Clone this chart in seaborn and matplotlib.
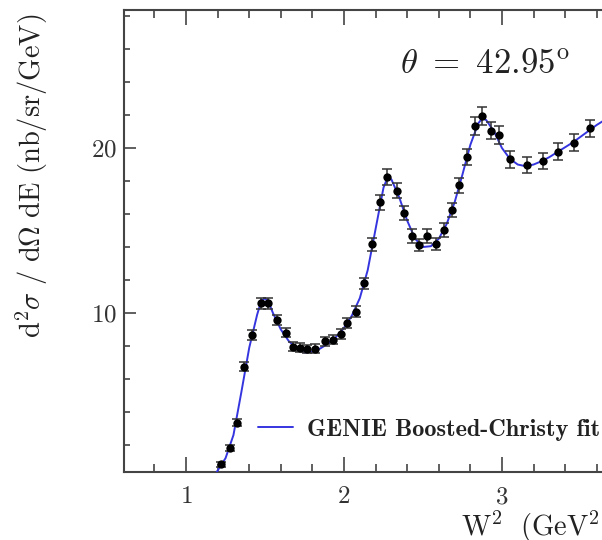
import matplotlib
matplotlib.use("Agg")
import matplotlib.pyplot as plt
import seaborn as sns
import pandas as pd
from matplotlib.ticker import MultipleLocator

# ---- data ----
data_w2 = [1.218, 1.276, 1.320, 1.366, 1.419, 1.476, 1.516, 1.577, 1.630, 1.680,
           1.722, 1.768, 1.818, 1.880, 1.932, 1.980, 2.022, 2.073, 2.125, 2.175,
           2.228, 2.274, 2.333, 2.380, 2.428, 2.477, 2.527, 2.582, 2.633, 2.682,
           2.730, 2.780, 2.829, 2.875, 2.928, 2.980, 3.050, 3.156, 3.258, 3.356,
           3.456, 3.560]
data_xs = [0.82, 1.80, 3.35, 6.75, 8.66, 10.58, 10.60, 9.60, 8.80, 7.96,
           7.90, 7.82, 7.84, 8.28, 8.38, 8.72, 9.40, 10.08, 11.80, 14.16,
           16.70, 18.26, 17.41, 16.08, 14.67, 14.12, 14.67, 14.18, 15.03, 16.24,
           17.73, 19.45, 21.33, 21.94, 21.05, 20.79, 19.32, 18.97, 19.21, 19.78,
           20.32, 21.19]
data_err = [0.15, 0.18, 0.22, 0.27, 0.30, 0.33, 0.33, 0.30, 0.28, 0.26,
            0.26, 0.26, 0.26, 0.27, 0.27, 0.28, 0.30, 0.32, 0.35, 0.40,
            0.43, 0.47, 0.45, 0.42, 0.40, 0.39, 0.40, 0.39, 0.41, 0.43,
            0.46, 0.50, 0.53, 0.55, 0.53, 0.52, 0.50, 0.49, 0.50, 0.51,
            0.52, 0.54]

fit_w2 = [1.17, 1.20, 1.25, 1.30, 1.35, 1.40, 1.45, 1.475, 1.50, 1.525,
          1.55, 1.60, 1.65, 1.70, 1.75, 1.80, 1.85, 1.90, 1.95, 2.00,
          2.05, 2.10, 2.15, 2.20, 2.25, 2.275, 2.30, 2.35, 2.40, 2.45,
          2.50, 2.55, 2.60, 2.65, 2.70, 2.75, 2.80, 2.85, 2.875, 2.90,
          2.95, 3.00, 3.05, 3.10, 3.15, 3.20, 3.25, 3.30, 3.35, 3.40,
          3.45, 3.50, 3.55, 3.60, 3.65, 3.70, 3.76]
fit_xs = [0.0, 0.45, 1.20, 2.60, 5.20, 7.90, 9.90, 10.70, 10.90, 10.60,
          10.00, 9.00, 8.30, 7.85, 7.60, 7.65, 7.85, 8.15, 8.55, 9.10,
          9.85, 10.90, 12.60, 15.10, 17.60, 18.20, 18.10, 17.00, 15.60, 14.50,
          14.00, 14.05, 14.50, 15.40, 16.70, 18.40, 20.20, 21.50, 21.80, 21.70,
          21.00, 20.00, 19.35, 19.00, 18.90, 19.00, 19.20, 19.45, 19.75, 20.05,
          20.35, 20.70, 21.05, 21.40, 21.70, 22.00, 22.35]

x_ticks = [1, 2, 3]
y_ticks = [10, 20]
title_text = r"$\mathrm{\theta\ =\ 42.95^{o}}$"
legend_label = "GENIE Boosted-Christy fit"
xlabel = r"$\mathrm{W^{2}\ \ (GeV^{2})}$"
ylabel = r"$\mathrm{d^{2}\sigma\ /\ d\Omega\ dE\ (nb/sr/GeV)}$"

sns.set_style("ticks")
plt.rcParams["font.family"] = ["cmr10", "DejaVu Serif"]
plt.rcParams["mathtext.fontset"] = "cm"
plt.rcParams["axes.formatter.use_mathtext"] = True

fig = plt.figure(figsize=(6.02, 5.40), dpi=100)
ax = fig.add_axes([124 / 602, 68 / 540, 498 / 602, 462.5 / 540])

df_fit = pd.DataFrame({"w2": fit_w2, "xs": fit_xs})
df_dat = pd.DataFrame({"w2": data_w2, "xs": data_xs, "err": data_err})

sns.lineplot(data=df_fit, x="w2", y="xs", ax=ax, color="#3535e0", lw=1.4,
             label=legend_label, sort=False, zorder=3)
ax.errorbar(df_dat["w2"], df_dat["xs"], yerr=df_dat["err"], fmt="none",
            ecolor="#333333", elinewidth=1.1, capsize=3.8, capthick=1.1,
            zorder=4, label="_nolegend_")
sns.scatterplot(data=df_dat, x="w2", y="xs", ax=ax, color="black", s=36,
                edgecolor="black", linewidth=0, zorder=5, legend=False)

ax.set_xlim(0.607, 3.76)
ax.set_ylim(0.36, 28.4)
ax.set_xticks(x_ticks)
ax.set_yticks(y_ticks)
ax.xaxis.set_minor_locator(MultipleLocator(0.2))
ax.yaxis.set_minor_locator(MultipleLocator(2))

for s in ["left", "bottom", "top", "right"]:
    ax.spines[s].set_visible(True)
    ax.spines[s].set_color("#444444")
    ax.spines[s].set_linewidth(1.5)

ax.tick_params(axis="x", which="major", direction="in", length=11, width=1.2,
               color="#444444", top=True, labelsize=18, pad=10)
ax.tick_params(axis="x", which="minor", direction="in", length=5.5, width=1.2,
               color="#444444", top=True)
ax.tick_params(axis="y", which="major", direction="in", length=8.5, width=1.2,
               color="#444444", right=True, labelsize=18, pad=5)
ax.tick_params(axis="y", which="minor", direction="in", length=4.3, width=1.2,
               color="#444444", right=True)
for lab in ax.get_xticklabels() + ax.get_yticklabels():
    lab.set_color("#333333")

ax.set_xlabel(xlabel, fontsize=20.5, loc="right", color="#222222")
ax.xaxis.set_label_coords(0.978, -0.080)
ax.set_ylabel(ylabel, fontsize=20.5, loc="top", color="#222222")
ax.yaxis.set_label_coords(-0.148, 0.992)

ax.text(0.725, 0.882, title_text, transform=ax.transAxes, fontsize=25,
        ha="center", va="center", color="#222222")

leg = ax.legend(loc="center left", bbox_to_anchor=(0.269, 0.091),
                frameon=False, borderaxespad=0, borderpad=0,
                handlelength=1.45, handletextpad=0.55,
                prop={"family": "cmb10", "size": 17.5})
for t in leg.get_texts():
    t.set_color("#222222")

fig.savefig("out.png", dpi=100)
